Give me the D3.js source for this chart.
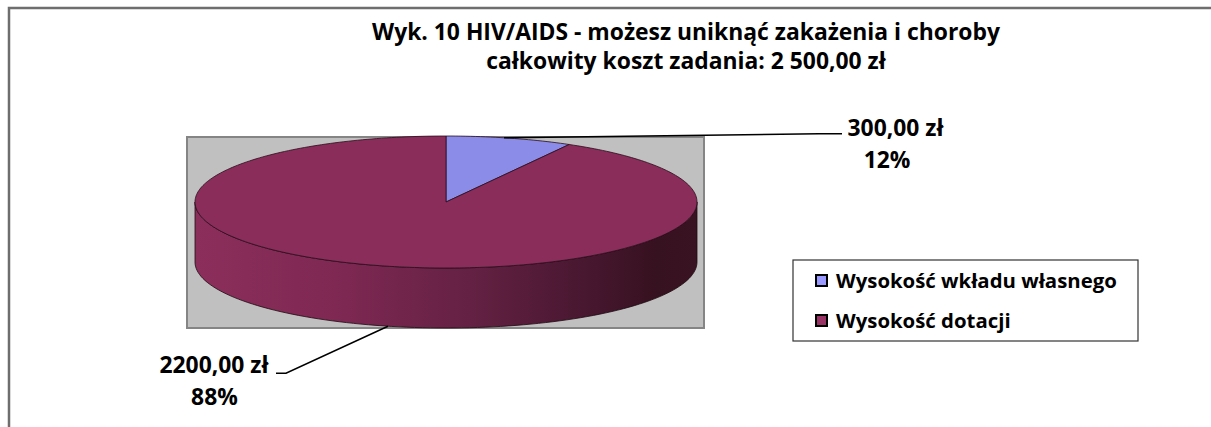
<!DOCTYPE html>
<html><head><meta charset="utf-8">
<script src="https://cdn.jsdelivr.net/npm/d3@7"></script>
<style>html,body{margin:0;padding:0;background:#fff;}svg{display:block;}</style>
</head><body>
<svg id="c" width="1211" height="427"></svg>
<script>
const titleLines = ["Wyk. 10 HIV/AIDS - możesz uniknąć zakażenia i choroby", "całkowity koszt zadania: 2 500,00 zł"];
const categories = ["Wysokość wkładu własnego", "Wysokość dotacji"];
const values = [300, 2200];
const topColors = ["#8B8BE8", "#8B2D5A"];
const legendColors = ["#9999FF", "#993366"];

const W = 1211, H = 427;
const svg = d3.select("#c");
const FONT = "'Open Sans', Lato, sans-serif";

// scale a text's font-size so that its width equals target
function fit(sel, target) {
  const w = sel.node().getComputedTextLength();
  const fs = +sel.attr("font-size");
  sel.attr("font-size", fs * target / w);
  return fs * target / w;
}

// outer frame
svg.append("rect").attr("x", 9).attr("y", 8).attr("width", W + 20).attr("height", H + 20)
  .attr("fill", "#fff").attr("stroke", "#6e6e6e").attr("stroke-width", 2.5);

// title
const t1 = svg.append("text").attr("x", 686).attr("y", 40).attr("text-anchor", "middle")
  .attr("font-family", FONT).attr("font-weight", "bold").attr("font-size", 20).attr("fill", "#000").text(titleLines[0]);
const tfs = fit(t1, 628);
svg.append("text").attr("x", 686).attr("y", 69).attr("text-anchor", "middle")
  .attr("font-family", FONT).attr("font-weight", "bold").attr("font-size", tfs).attr("fill", "#000").text(titleLines[1]);

// plot area
svg.append("rect").attr("x", 187).attr("y", 137).attr("width", 517).attr("height", 191)
  .attr("fill", "#C0C0C0").attr("stroke", "#858585").attr("stroke-width", 2);

// pie geometry
const cx = 446, cy = 202, rx = 251, ry = 66, depth = 60, k = 0.6;
const total = d3.sum(values);
const pie = d3.pie().sort(null).startAngle(0).endAngle(2 * Math.PI);
const arcs = pie(values);
// data angle -> displayed parametric angle (Excel 3D pie distortion)
const disp = a => Math.atan2(k * Math.sin(a), Math.cos(a));
const unwrap = (a) => {
  const t = disp(a);
  const n = Math.round((a - t) / (2 * Math.PI));
  return t + n * 2 * Math.PI;
};
const pt = (t, dy = 0) => [cx + rx * Math.sin(t), cy - ry * Math.cos(t) + dy];
const line = d3.line();

const defs = svg.append("defs");
const grad = defs.append("linearGradient").attr("id", "side").attr("gradientUnits", "userSpaceOnUse")
  .attr("x1", cx - rx).attr("x2", cx + rx).attr("y1", 0).attr("y2", 0);
[[0, "#8C2E5B"], [0.3, "#7D2852"], [0.55, "#642143"], [0.8, "#45162E"], [0.92, "#36111F"], [1, "#3A1322"]]
  .forEach(([o, c]) => grad.append("stop").attr("offset", o).attr("stop-color", c));

// side walls (front half: parametric t in [PI/2, 3PI/2])
arcs.forEach((d, i) => {
  const a0 = Math.max(unwrap(d.startAngle), Math.PI / 2);
  const a1 = Math.min(unwrap(d.endAngle), 3 * Math.PI / 2);
  if (a1 <= a0) return;
  const ts = d3.range(0, 101).map(j => a0 + (a1 - a0) * j / 100);
  const pts = ts.map(t => pt(t)).concat(ts.slice().reverse().map(t => pt(t, depth)));
  svg.append("path").attr("d", line(pts) + "Z")
    .attr("fill", i === 1 ? "url(#side)" : topColors[i]).attr("stroke", "#1e0a12").attr("stroke-width", 0.8);
});

// top faces
arcs.forEach((d, i) => {
  const a0 = unwrap(d.startAngle), a1 = unwrap(d.endAngle);
  const n = Math.max(4, Math.ceil((a1 - a0) / 0.02));
  const pts = [[cx, cy]].concat(d3.range(0, n + 1).map(j => pt(a0 + (a1 - a0) * j / n)));
  svg.append("path").attr("d", line(pts) + "Z")
    .attr("fill", topColors[i]).attr("stroke", "#2a0e1c").attr("stroke-width", 0.8).attr("stroke-linejoin", "round");
});

// data labels with leader lines
const fmt = v => d3.format(".2f")(v).replace(".", ",") + " zł";
const labelSpecs = [
  { dx: 315, dy: -4, side: 1, hl: 23, tx: 53.5, ty: 2, px: -8.5 },
  { dx: -102, dy: 47, side: -1, hl: 10, tx: -62, ty: 0, px: 0.5 }
];
arcs.forEach((d, i) => {
  const mid = (d.startAngle + d.endAngle) / 2;
  const t = unwrap(mid);
  const inFront = Math.cos(t) < 0;
  const anchor = pt(t, inFront ? depth : 0);
  const s = labelSpecs[i];
  const elbow = [anchor[0] + s.dx, anchor[1] + s.dy];
  const end = [elbow[0] + s.side * s.hl, elbow[1]];
  svg.append("path").attr("d", line([anchor, elbow, end])).attr("fill", "none")
    .attr("stroke", "#000").attr("stroke-width", 1.5);
  const lx = end[0] + s.tx;
  const ly = end[1] + s.ty;
  svg.append("text").attr("x", lx).attr("y", ly).attr("text-anchor", "middle").attr("font-family", FONT)
    .attr("font-weight", "bold").attr("font-size", tfs).attr("fill", "#000").text(fmt(d.data));
  svg.append("text").attr("x", lx + s.px).attr("y", ly + 32).attr("text-anchor", "middle").attr("font-family", FONT)
    .attr("font-weight", "bold").attr("font-size", tfs).attr("fill", "#000").text(d3.format(".0%")(d.data / total));
});

// legend
const lg = svg.append("g");
lg.append("rect").attr("x", 793).attr("y", 260).attr("width", 345).attr("height", 81)
  .attr("fill", "#fff").attr("stroke", "#333").attr("stroke-width", 1.2);
let lfs = null;
categories.forEach((c, i) => {
  const y = 281 + i * 40;
  lg.append("rect").attr("x", 816).attr("y", y - 6).attr("width", 11).attr("height", 11)
    .attr("fill", legendColors[i]).attr("stroke", "#000").attr("stroke-width", 2);
  const tx = lg.append("text").attr("x", 836).attr("y", y + 7).attr("font-family", FONT).attr("font-weight", "bold")
    .attr("font-size", lfs || tfs).attr("fill", "#000").text(c);
  if (i === 0) lfs = fit(tx, 281);
});
</script>
</body></html>
